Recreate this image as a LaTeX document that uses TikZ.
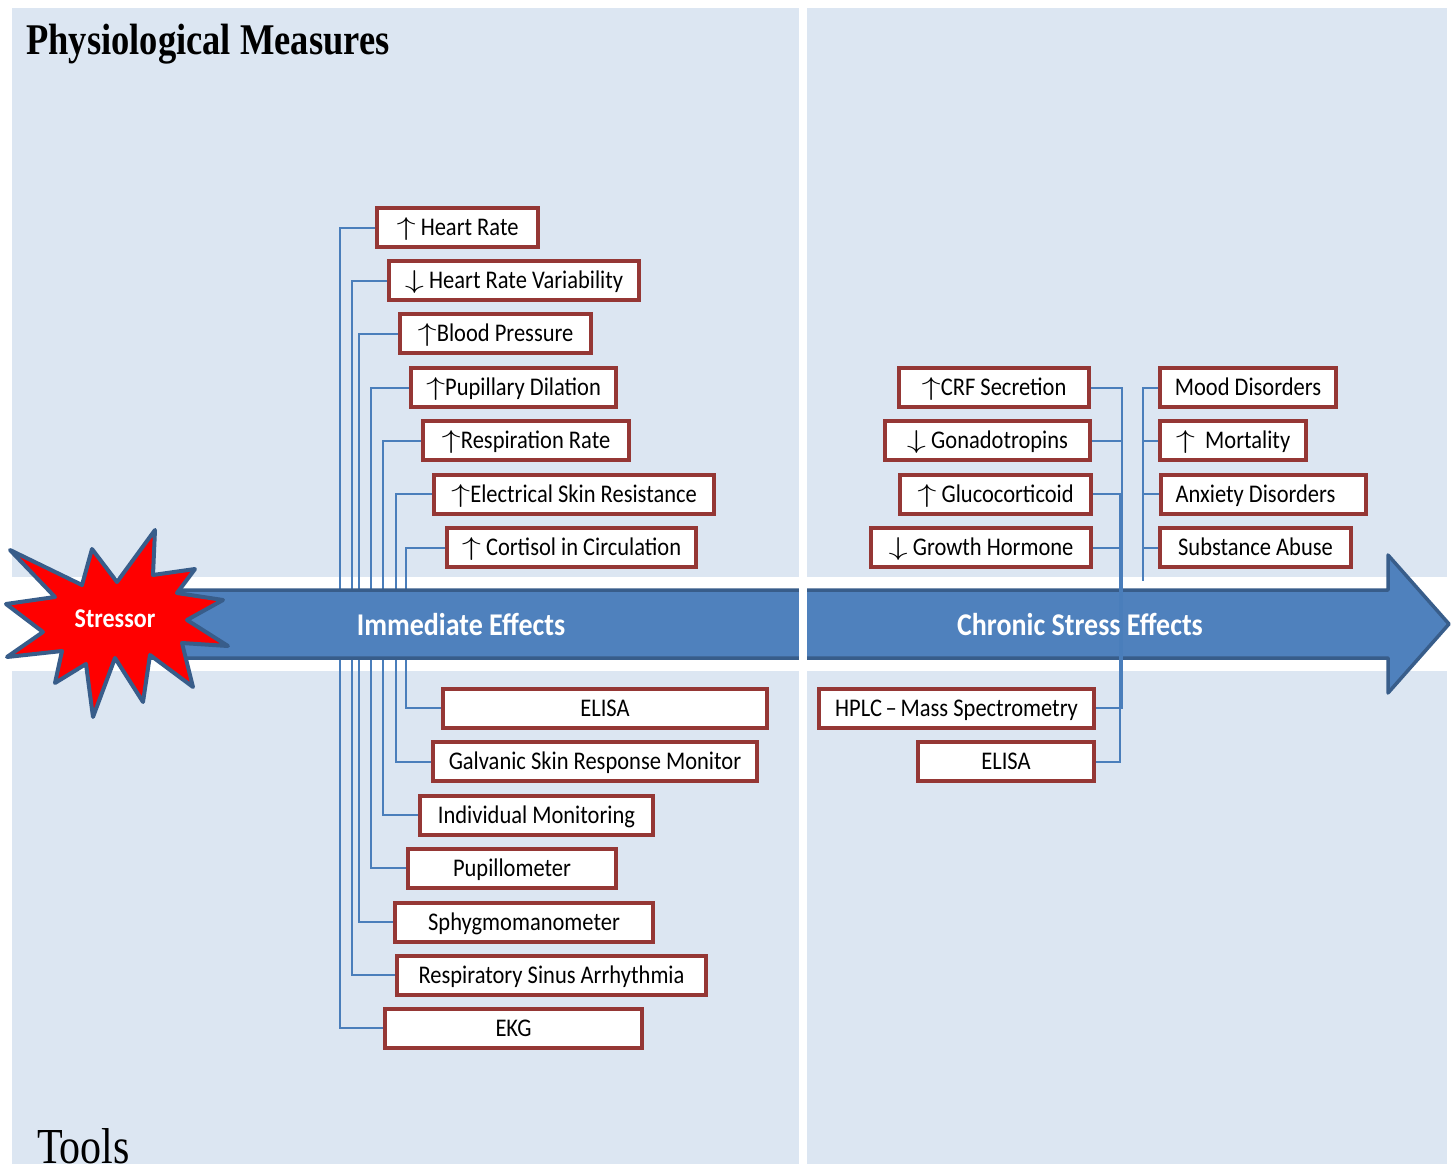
\documentclass[tikz,border=0pt]{standalone}
\usepackage{fontspec}
\setmainfont{Carlito}
\newfontfamily\titlefont{Liberation Serif}
\usepackage{graphicx}
\definecolor{panel}{HTML}{DCE6F2}
\definecolor{boxred}{HTML}{953735}
\definecolor{conncol}{HTML}{4A7EBB}
\definecolor{arrowfill}{HTML}{4F81BD}
\definecolor{arrowline}{HTML}{385D8A}
\newcommand\vs[1]{\scalebox{1}[1.13]{#1}}
\newcommand\up{\scalebox{1.85}[1.1]{$\uparrow$}}
\newcommand\dn{\scalebox{1.85}[1.1]{$\downarrow$}}
\pgfdeclarelayer{bg}
\pgfdeclarelayer{lconn}
\pgfdeclarelayer{arrowlayer}
\pgfdeclarelayer{rconn}
\pgfsetlayers{bg,lconn,arrowlayer,rconn,main}
\begin{document}
\begin{tikzpicture}[x=1pt,y=-1pt,
  box/.style={draw=boxred, line width=4pt, fill=white, minimum height=39pt,
    inner sep=0pt, text height=18pt, text depth=2pt,
    font=\fontsize{22.5}{26}\selectfont},
  conn/.style={draw=conncol, line width=2pt},
  bandlabel/.style={text=white, inner sep=0pt, text height=18pt, text depth=2pt,
    font=\fontsize{28}{32}\selectfont\bfseries}]
\useasboundingbox (0,0) rectangle (1453,1164);
\begin{pgfonlayer}{bg}
\fill[white] (0,0) rectangle (1453,1164);
\fill[panel] (12,8) rectangle (799,577);
\fill[panel] (807,8) rectangle (1447,577);
\fill[panel] (12,671) rectangle (799,1164);
\fill[panel] (807,671) rectangle (1447,1164);
\end{pgfonlayer}

% titles
\node[anchor=base west, inner sep=0pt, font=\titlefont\fontsize{36.5}{40}\selectfont\bfseries] (title) at (26,55) {\scalebox{1}[1.2]{Physiological Measures}};
\node[anchor=base west, inner sep=0pt, font=\titlefont\fontsize{42}{44}\selectfont] (tools) at (37,1163) {\scalebox{1}[1.2]{Tools}};

% nodes: immediate effects
\node[box, minimum width=161pt] (hr)   at (457.5,227.5) {\vs{\up\ Heart Rate}};
\node[box, minimum width=250pt] (hrv)  at (514,280.5)   {\vs{\dn\ Heart Rate Variability}};
\node[box, minimum width=191pt] (bp)   at (495.5,333.5) {\vs{\up Blood Pressure}};
\node[box, minimum width=205pt] (pd)   at (513.5,387.5) {\vs{\up Pupillary Dilation}};
\node[box, minimum width=206pt] (rr)   at (526,440.5)   {\vs{\up Respiration Rate}};
\node[box, minimum width=280pt] (esr)  at (574,494)     {\vs{\up Electrical Skin Resistance}};
\node[box, minimum width=249pt] (cort) at (571.5,547.5) {\vs{\up\ Cortisol in Circulation}};
% tools
\node[box, minimum width=324pt] (elisa) at (605,708)    {\vs{ELISA}};
\node[box, minimum width=324pt] (gsr)   at (595,761.5)  {\vs{Galvanic Skin Response Monitor}};
\node[box, minimum width=233pt] (im)    at (536.5,815)  {\vs{Individual Monitoring}};
\node[box, minimum width=208pt] (pup)   at (512,868)    {\vs{Pupillometer}};
\node[box, minimum width=258pt] (sph)   at (524,922)    {\vs{Sphygmomanometer}};
\node[box, minimum width=309pt] (rsa)   at (551.5,975)  {\vs{Respiratory Sinus Arrhythmia}};
\node[box, minimum width=257pt] (ekg)   at (513.5,1028) {\vs{EKG}};
% chronic
\node[box, minimum width=190pt] (crf)  at (994,387.5)   {\vs{\up CRF Secretion}};
\node[box, minimum width=205pt] (gon)  at (987.5,440.5) {\vs{\dn\ Gonadotropins}};
\node[box, minimum width=191pt] (glu)  at (995.5,494)   {\vs{\up\ Glucocorticoid}};
\node[box, minimum width=220pt] (gh)   at (981,547.5)   {\vs{\dn\ Growth Hormone}};
\node[box, minimum width=176pt] (mood) at (1248,387.5)  {\vs{Mood Disorders}};
\node[box, minimum width=146pt] (mort) at (1233,440.5)  {\vs{\up\ \ Mortality}};
\node[box, minimum width=205pt] (anx)  at (1263.5,494)  {\hspace*{-16pt}\vs{Anxiety Disorders}};
\node[box, minimum width=191pt] (sub)  at (1255.5,547.5){\vs{Substance Abuse}};
\node[box, minimum width=275pt] (hplc) at (956.5,708)   {\vs{HPLC\,--\,Mass Spectrometry}};
\node[box, minimum width=176pt] (elisb) at (1006,761.5) {\vs{ELISA}};

% connector guide coordinates
\coordinate (L1) at (340,640);
\coordinate (L2) at (352,640);
\coordinate (L3) at (359,640);
\coordinate (L4) at (371,640);
\coordinate (L5) at (383,640);
\coordinate (L6) at (396,640);
\coordinate (L7) at (406,640);
\coordinate (R1) at (1122,600);
\coordinate (R2) at (1120,600);
\coordinate (R3) at (1143,581);

\begin{pgfonlayer}{lconn}
\draw[conn] (hr.west)   -| (L1) |- (ekg.west);
\draw[conn] (hrv.west)  -| (L2) |- (rsa.west);
\draw[conn] (bp.west)   -| (L3) |- (sph.west);
\draw[conn] (pd.west)   -| (L4) |- (pup.west);
\draw[conn] (rr.west)   -| (L5) |- (im.west);
\draw[conn] (esr.west)  -| (L6) |- (gsr.west);
\draw[conn] (cort.west) -| (L7) |- (elisa.west);
\end{pgfonlayer}

\begin{pgfonlayer}{arrowlayer}
\coordinate (a1) at (150,590);
\coordinate (a2) at (1388,590);
\coordinate (a3) at (1388,555);
\coordinate (a4) at (1449,624);
\coordinate (a5) at (1388,693);
\coordinate (a6) at (1388,658);
\coordinate (a7) at (150,658);
\draw[fill=arrowfill, draw=arrowline, line width=3.5pt, line join=round]
  (a1) -- (a2) -- (a3) -- (a4) -- (a5) -- (a6) -- (a7) -- cycle;
\fill[white] (799,575) rectangle (807,673);
\end{pgfonlayer}

\begin{pgfonlayer}{rconn}
\draw[conn] (crf.east) -| (R1) |- (hplc.east);
\draw[conn] (gon.east) -- (gon.east -| R1);
\draw[conn] (glu.east) -| (R2) |- (elisb.east);
\draw[conn] (gh.east) -- (gh.east -| R2);
\draw[conn] (mood.west) -| (R3);
\draw[conn] (mort.west) -- (mort.west -| R3);
\draw[conn] (anx.west) -- (anx.west -| R3);
\draw[conn] (sub.west) -- (sub.west -| R3);
\end{pgfonlayer}

\node[bandlabel] (imm) at (461,627) {\vs{Immediate Effects}};
\node[bandlabel] (chr) at (1080,627) {\vs{Chronic Stress Effects}};

% stressor star
\draw[fill=red, draw=arrowline, line width=4pt, line join=round]
  (10,550) -- (82,585) -- (92,549) -- (117,582) -- (155,530) -- (153,575)
  -- (195,569) -- (177,593) -- (223,600) -- (187,620) -- (228,646) -- (182,643)
  -- (193,687) -- (150,655) -- (143,702) -- (115,658) -- (93,717) -- (86,664)
  -- (55,683) -- (62,651) -- (7,657) -- (43,632) -- (6,604) -- (55,597) -- cycle;
\node[text=white, inner sep=0pt, text height=14pt, text depth=2pt,
  font=\fontsize{24}{28}\selectfont\bfseries] (stressor) at (115,621) {\vs{Stressor}};
\end{tikzpicture}
\end{document}
